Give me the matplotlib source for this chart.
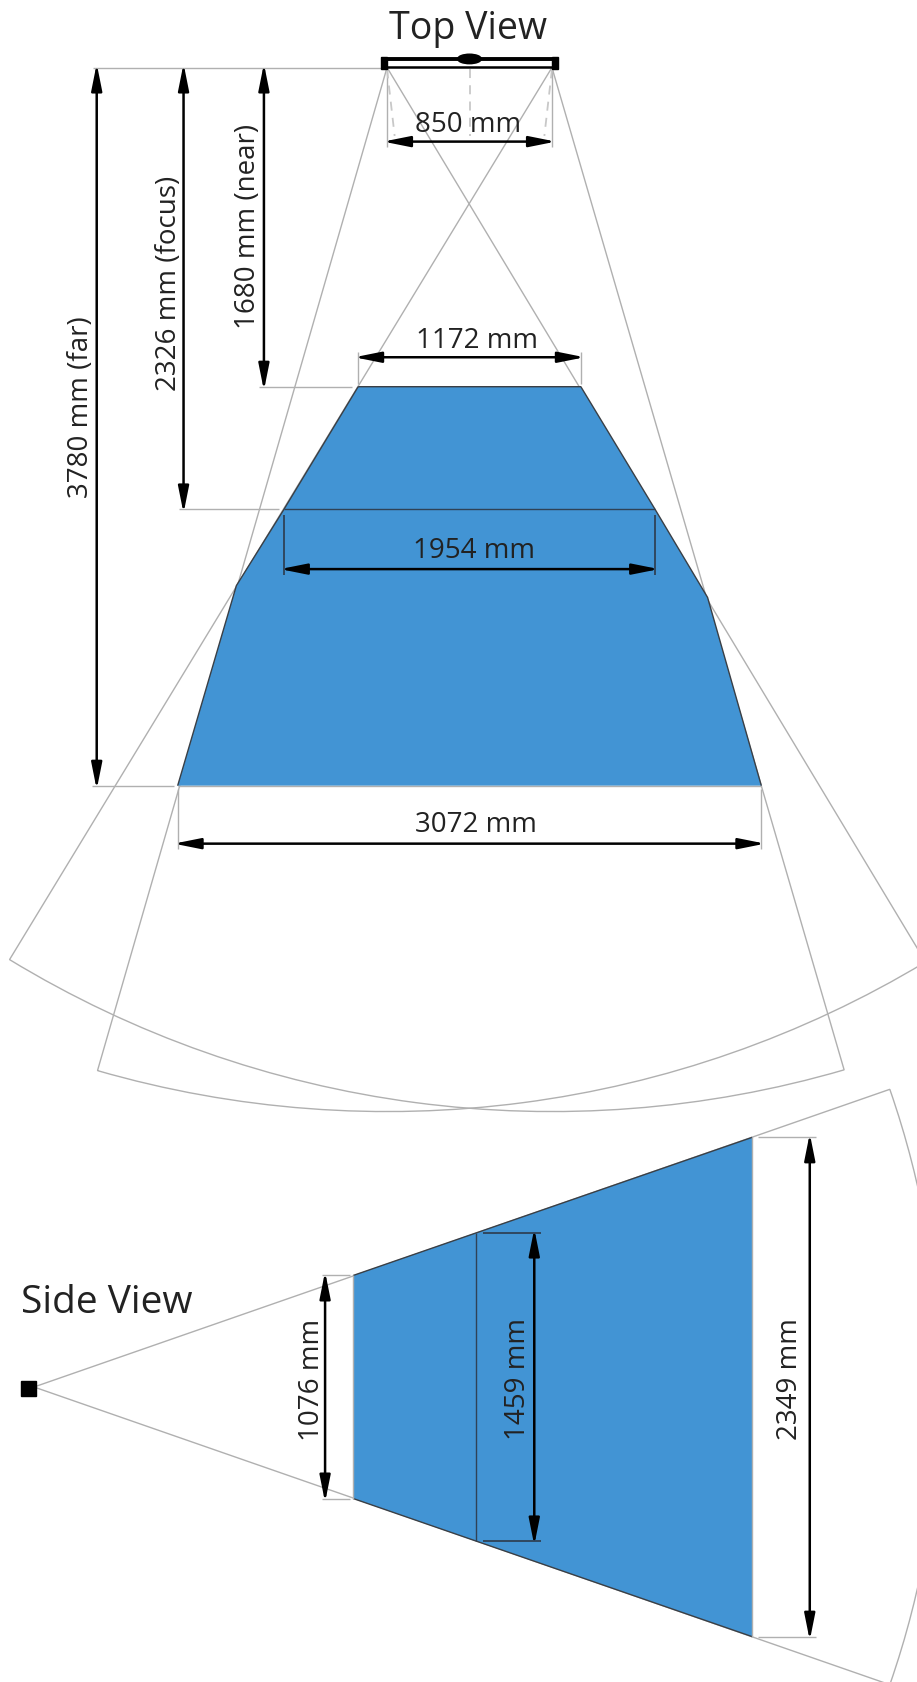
import matplotlib

matplotlib.use("Agg")
from matplotlib import pyplot as plt
from matplotlib.patches import FancyArrowPatch, Wedge, Polygon, Rectangle, Ellipse
import numpy as np

plt.rcParams['font.family'] = ['Open Sans', 'DejaVu Sans']

# top view values, mm
top_depths = [1680, 2326, 3780]
top_widths = [1172, 1954, 3072]
depth_names = ['near', 'focus', 'far']
baseline = 850
baseline_drawn = 868
kink_left = (-1227, 2727)
kink_right = (1253, 2789)
top_range = 5495
left_angles = [16.1, 31.05]
right_angles = [31.3, 16.25]

# side view values, mm
side_labels = [1076, 1459, 2349]
side_drawn = [1174, 1626, 2628]
side_range = 4769
side_angle = 19.18

W, H = 917, 1683
SCALE = 0.19  # pixels per mm
BLUE = '#4294d4'
GREY = '#b0b0b0'
DARK = '#2f4256'
TXT = '#222222'
FS = 20

fig = plt.figure(figsize=(W / 100, H / 100), dpi=100)


def full_axes(x0, y0):
    # whole figure axes in mm, origin at pixel x0, y0
    ax = fig.add_axes([0, 0, 1, 1])
    ax.set_xlim(-x0 / SCALE, (W - x0) / SCALE)
    ax.set_ylim((y0 - H) / SCALE, y0 / SCALE)
    ax.axis('off')
    ax.patch.set_alpha(0)
    return ax


def dim_arrow(ax, p0, p1):
    # the heads stop short of their end points, push them back out a bit
    p0, p1 = np.array(p0, float), np.array(p1, float)
    u = (p1 - p0) / np.hypot(*(p1 - p0))
    ax.add_patch(FancyArrowPatch(p0 - u * 20, p1 + u * 20,
                                 arrowstyle='<|-|>,head_length=16,head_width=3.2',
                                 mutation_scale=1, lw=1.8, color='black',
                                 shrinkA=0, shrinkB=0, zorder=6))


def thin(ax, xs, ys, color=GREY, lw=1.0, ls='-', z=2):
    ax.plot(xs, ys, color=color, lw=lw, ls=ls, zorder=z, solid_capstyle='butt')


top = full_axes(469.5, 68.5)

# camera / projector field of view
half = baseline_drawn / 2
top.add_patch(Wedge((-half, 0), top_range, -90 - left_angles[0], -90 + left_angles[1],
                    fill=False, edgecolor=GREY, lw=1.0, zorder=2))
top.add_patch(Wedge((half, 0), top_range, -90 - right_angles[0], -90 + right_angles[1],
                    fill=False, edgecolor=GREY, lw=1.0, zorder=2))

# blue volume
near_w, focus_w, far_w = [w / 2 for w in top_widths]
near_d, focus_d, far_d = top_depths
outline = [(-near_w, -near_d), (near_w, -near_d), (focus_w, -focus_d),
           (kink_right[0], -kink_right[1]), (far_w, -far_d), (-far_w, -far_d),
           (kink_left[0], -kink_left[1]), (-focus_w, -focus_d)]
top.add_patch(Polygon(outline, closed=True, facecolor=BLUE, edgecolor='none', zorder=3))
edge_x = [p[0] for p in outline]
edge_y = [p[1] for p in outline]
thin(top, edge_x[:5], edge_y[:5], '#3a3f45', 1.0, z=4)
thin(top, edge_x[5:] + [edge_x[0]], edge_y[5:] + [edge_y[0]], '#3a3f45', 1.0, z=4)
thin(top, [-far_w, far_w], [-far_d, -far_d], GREY, 1.0, z=4)
thin(top, [-focus_w, focus_w], [-focus_d, -focus_d], DARK, 1.0, z=4)

# depth dimensions on the left
depth_x = [-1082, -1505, -1962]
ref_end = [-617, -1004, -1557]
depth_text_x = [-1165, -1584, -2045]
depth_text_y = [829, 1129, 1784]
for d, name, x, end, tx, ty in zip(top_depths, depth_names, depth_x, ref_end, depth_text_x, depth_text_y):
    dim_arrow(top, (x, 0), (x, -d))
    thin(top, [x - 25, end], [-d, -d])
    top.text(tx, -ty, '%d mm (%s)' % (d, name), rotation=90, ha='center', va='center',
             fontsize=FS, color=TXT, zorder=7)
thin(top, [depth_x[2] - 20, -half - 30], [0, 0])

# width dimensions
width_y = [-1525, -2640, -4085]
ext_a = [-1665, -2355, -3795]
ext_b = [-1495, -2670, -4115]
text_x = [38, 26, 36]
text_dy = [89, 99, 105]
for w, y, a, b, tx, dy in zip(top_widths, width_y, ext_a, ext_b, text_x, text_dy):
    col = DARK if w == top_widths[1] else GREY
    lw = 1.3 if w == top_widths[1] else 1.0
    thin(top, [-w / 2, -w / 2], [a, b], col, lw, z=4)
    thin(top, [w / 2, w / 2], [a, b], col, lw, z=4)
    dim_arrow(top, (-w / 2, y), (w / 2, y))
    top.text(tx, y + dy, '%d mm' % w, ha='center', va='center', fontsize=FS, color=TXT, zorder=7)

# baseline dimension and device
y = -390
thin(top, [-half, -half], [0, y - 30])
thin(top, [half, half], [0, y - 30])
dim_arrow(top, (-half, y), (half, y))
top.text(-5, y + 94, '%d mm' % baseline, ha='center', va='center', fontsize=FS, color=TXT, zorder=7)
for sx0, sx1 in [(-half, -half + 40), (half, half - 40), (0, 0)]:
    thin(top, [sx0, sx1], [-10, -360], '#c8c8c8', 1.3, (0, (5, 4)))
thin(top, [-465, 465], [47, 47], 'black', 2.8, z=5)
thin(top, [-465, 465], [1, 1], 'black', 1.8, z=5)
top.add_patch(Rectangle((-465, -10), 32, 65, color='black', zorder=5))
top.add_patch(Rectangle((433, -10), 32, 65, color='black', zorder=5))
top.add_patch(Ellipse((0, 45), 125, 50, color='black', zorder=6))
top.text(-8, 208, 'Top View', ha='center', va='center', fontsize=27, color=TXT)

# side view
side = full_axes(34, 1388)
side.add_patch(Wedge((0, 0), side_range, -side_angle, side_angle, fill=False,
                     edgecolor=GREY, lw=1.0, zorder=2))
h0, h1, h2 = [h / 2 for h in side_drawn]
side.add_patch(Polygon([(near_d, h0), (far_d, h2), (far_d, -h2), (near_d, -h0)], closed=True,
                       facecolor=BLUE, edgecolor='none', zorder=3))
thin(side, [near_d, far_d], [h0, h2], '#3a3f45', 1.0, z=4)
thin(side, [near_d, far_d], [-h0, -h2], '#3a3f45', 1.0, z=4)
thin(side, [near_d, near_d], [-h0, h0], GREY, 1.0, z=4)
thin(side, [far_d, far_d], [-h2, h2], GREY, 1.0, z=4)
thin(side, [focus_d, focus_d], [-h1, h1], DARK, 1.0, z=4)

side_x = [1532, 2633, 4083]
ext_from = [1665, 2365, 3810]
ext_to = [1515, 2668, 4115]
side_text_off = [71, 88, 105]
for lab, h, x, a, b, off in zip(side_labels, [h0, h1, h2], side_x, ext_from, ext_to, side_text_off):
    col = DARK if lab == side_labels[1] else GREY
    lw = 1.3 if lab == side_labels[1] else 1.0
    thin(side, [a, b], [h, h], col, lw, z=4)
    thin(side, [a, b], [-h, -h], col, lw, z=4)
    dim_arrow(side, (x, -h), (x, h))
    side.text(x - off, 45, '%d mm' % lab, rotation=90, ha='center', va='center',
              fontsize=FS, color=TXT, zorder=7)
side.add_patch(Rectangle((-70, -45), 80, 78, color='black', zorder=5))
side.text(385, 447, 'Side View', ha='center', va='center', fontsize=28, color=TXT)

fig.savefig('out.png', dpi=100)
